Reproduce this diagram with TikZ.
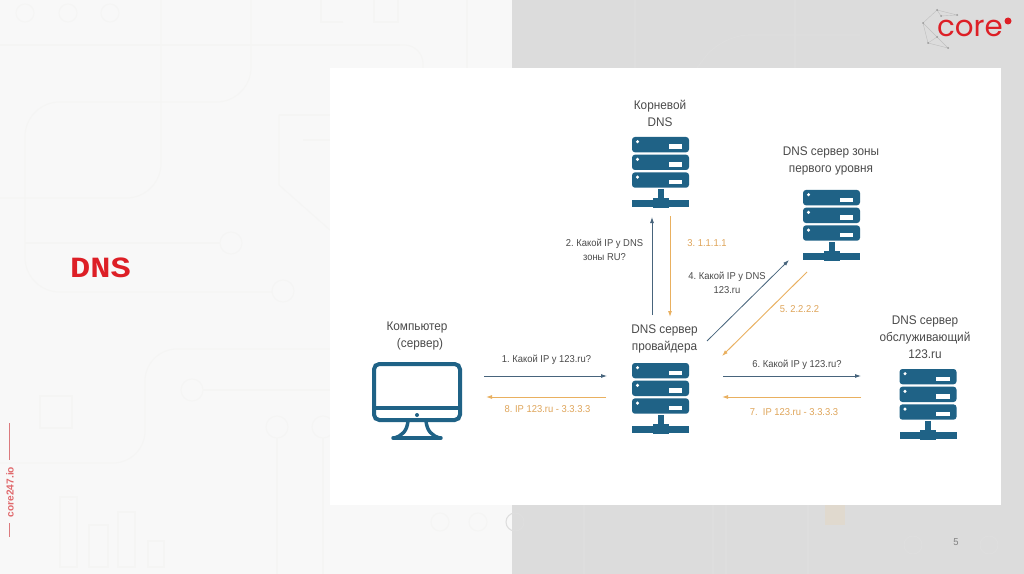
\documentclass[tikz,border=0pt]{standalone}
\usepackage{fontspec}
\setmainfont{Liberation Sans}[FakeStretch=0.94]
\newfontfamily\serifbold{Liberation Mono}[FakeStretch=1.15]
\newfontfamily\logofont{Poppins}
\newfontfamily\sidefont{Liberation Sans}
\usetikzlibrary{arrows.meta}
\definecolor{srv}{HTML}{1F6286}
\definecolor{bluearrow}{HTML}{47647C}
\definecolor{orangearrow}{HTML}{E9B060}
\definecolor{otext}{HTML}{DFA55A}
\definecolor{txt}{HTML}{4A4A4A}
\definecolor{redbrand}{HTML}{DD1F26}
\definecolor{sidered}{HTML}{DB7A7E}
\definecolor{bgl}{HTML}{F8F8F8}
\definecolor{bgr}{HTML}{DCDCDC}
\definecolor{deco}{HTML}{F5F5F4}
\definecolor{decor}{HTML}{DEDEDE}
\definecolor{decosq}{HTML}{E0D9CE}
\tikzset{
 x=0.75pt,y=-0.75pt,
 lbl/.style={font=\fontsize{9.4pt}{12.75pt}\selectfont,text=txt,align=center,inner sep=0pt},
 small/.style={font=\fontsize{7.5pt}{10.5pt}\selectfont,text=txt,align=center,inner sep=0pt},
 smallo/.style={small,text=otext},
 barrow/.style={draw=bluearrow,line width=0.6pt,-{Latex[length=4.5pt,width=3pt]}},
 oarrow/.style={draw=orangearrow,line width=0.7pt,-{Latex[length=4.5pt,width=3pt]}},
 decoline/.style={draw=deco,line width=0.8pt},
 decoliner/.style={draw=decor,line width=0.8pt},
 server/.pic={
  \foreach \yy in {0,17.7,35.4}{
   \fill[srv,rounded corners=2.2pt] (-28.5,\yy) rectangle (28.5,\yy+15.3);
   \fill[white] (-23,\yy+4.7) circle (1.7);
   \fill[white] (8,\yy+7.5) rectangle (21.5,\yy+12);
  }
  \fill[srv] (-3,52) rectangle (3,64);
  \fill[srv] (-28.5,63) rectangle (28.5,70);
  \fill[srv] (-8,60.5) rectangle (8,71);
 }
}
\begin{document}
\frenchspacing
\begin{tikzpicture}
\useasboundingbox (0,0) rectangle (1024,574);
% background
\fill[bgl] (0,0) rectangle (512,574);
\fill[bgr] (512,0) rectangle (1024,574);
% faint decoration, left half
\foreach \cx in {25,68,110}{\draw[decoline] (\cx,13) circle (9);}
\draw[decoline] (0,45) -- (400,45);
\draw[decoline,rounded corners=26pt] (161,0) -- (161,198) -- (0,198);
\draw[decoline,rounded corners=26pt] (251,0) -- (251,102) -- (25,102) -- (25,292) -- (272,292);
\draw[decoline] (25,243) -- (220,243);
\draw[decoline] (231,243) circle (11);
\draw[decoline] (283,291) circle (11);
\draw[decoline] (279,115) -- (330,115);
\draw[decoline] (279,115) -- (279,185) -- (330,230);
\draw[decoline] (303,140) -- (330,140);
\draw[decoline] (343,22) -- (321,22) -- (321,0);
\draw[decoline] (374,0) -- (374,22) -- (398,22) -- (398,0);
\draw[decoline] (467,0) -- (467,68);
\draw[decoline,rounded corners=14pt] (400,45) -- (423,45) -- (423,68);
\draw[decoline] (40,396) rectangle (72,428);
\draw[decoline] (60,497) rectangle (77,567);
\draw[decoline] (89,525) rectangle (108,567);
\draw[decoline] (118,512) rectangle (135,567);
\draw[decoline] (148,541) rectangle (164,567);
\draw[decoline,rounded corners=24pt] (330,349) -- (145,349) -- (145,463) -- (0,463);
\draw[decoline] (192,390) circle (11);
\draw[decoline] (203,390) -- (330,390);
\draw[decoline] (277,427) circle (11);
\draw[decoline] (323,427) circle (11);
\draw[decoline] (277,438) -- (277,574);
\draw[decoline] (323,438) -- (323,574);
\foreach \cx in {440,478}{\draw[decoline] (\cx,522) circle (9);}
% faint decoration, right half
\draw[decoliner] (515,522) circle (9);
\draw[decoliner] (913,545) circle (9);
\draw[decoliner] (989,545) circle (9);
\foreach \vx in {584,713,726,808}{\draw[decoliner] (\vx,505) -- (\vx,574);}
\foreach \vx in {635,795}{\draw[decoliner] (\vx,0) -- (\vx,68);}
\draw[decoliner,rounded corners=20pt] (697,68) -- (722,35) -- (860,35);
\fill[decosq] (825,505) rectangle (845,525);
% white panel
\fill[white] (330,68) rectangle (1001,505);
% title
\node[font=\fontsize{22pt}{24pt}\bfseries\selectfont\serifbold,text=redbrand,inner sep=0pt] (title) at (100.5,268) {DNS};
% logo
\node[font=\fontsize{22pt}{24pt}\selectfont\logofont,text=redbrand,inner sep=0pt,anchor=base] (logo) at (970,37) {core};
\fill[redbrand] (1008,21) circle (3.5);
\coordinate (n1) at (937,10); \coordinate (n2) at (941,16); \coordinate (n3) at (957,15);
\coordinate (n4) at (923,23); \coordinate (n5) at (937,37); \coordinate (n6) at (928,43);
\coordinate (n7) at (948,48);
\draw[black!25,line width=0.3pt] (n1) -- (n2) -- (n3) -- (n1) -- (n4) -- (n6) -- (n7) -- (n5) -- (n4) (n6) -- (n5);
\foreach \n in {n1,n2,n3,n4,n5,n6,n7}{\fill[black!40] (\n) circle (1);}
% side
\node[rotate=90,font=\fontsize{7.6pt}{8pt}\bfseries\selectfont\sidefont,text=sidered!85!red,inner sep=0pt] (side) at (10,492) {core247.io};
\draw[sidered,line width=0.8pt] (9.5,423) -- (9.5,460);
\draw[sidered,line width=0.8pt] (9.5,523) -- (9.5,537);
\node[font=\fontsize{7.5pt}{9pt}\selectfont,text=black!50,inner sep=0pt] (page) at (956,542) {5};
% servers
\pic at (660.5,137) {server};
\pic at (831.5,190) {server};
\pic at (660.5,363) {server};
\pic at (928,369) {server};
% monitor
\draw[srv,line width=3pt,rounded corners=4pt] (374,364) rectangle (460,420);
\draw[srv,line width=3pt] (374,408) -- (460,408);
\fill[srv] (417,415) circle (2);
\draw[srv,line width=2.6pt] (408,421) .. controls (407,431) and (402,436) .. (394,438);
\draw[srv,line width=2.6pt] (426,421) .. controls (427,431) and (432,436) .. (440,438);
\draw[srv,line width=2.6pt,line cap=round] (393,438) -- (441,438);
% labels
\node[lbl] (root) at (660,113.5) {Корневой\\DNS};
\node[lbl] (tld) at (831,160.5) {DNS сервер зоны\\первого уровня};
\node[lbl] (comp) at (417,336) {Компьютер\\\hspace{4.5pt}(сервер)};
\node[lbl] (prov) at (664.5,338.5) {DNS сервер\\провайдера};
\node[lbl] (serv) at (925,337) {DNS сервер\\обслуживающий\\123.ru};
% connector ends
\coordinate (a1s) at (484,376); \coordinate (a1e) at (607,376);
\coordinate (a8s) at (606,397); \coordinate (a8e) at (486,397);
\coordinate (a2s) at (652,315); \coordinate (a2e) at (652,217);
\coordinate (a3s) at (670,216); \coordinate (a3e) at (670,317);
\coordinate (a4s) at (707,341); \coordinate (a4e) at (789,260);
\coordinate (a5s) at (807,272); \coordinate (a5e) at (722,356);
\coordinate (a6s) at (723,376); \coordinate (a6e) at (861,376);
\coordinate (a7s) at (861,397); \coordinate (a7e) at (722,397);
\draw[barrow] (a1s) -- (a1e);
\draw[oarrow] (a8s) -- (a8e);
\draw[barrow] (a2s) -- (a2e);
\draw[oarrow] (a3s) -- (a3e);
\draw[barrow] (a4s) -- (a4e);
\draw[oarrow] (a5s) -- (a5e);
\draw[barrow] (a6s) -- (a6e);
\draw[oarrow] (a7s) -- (a7e);
\node[small] (t1) at (546.5,360) {1. Какой IP у 123.ru?};
\node[smallo] (t8) at (547.5,409) {8. IP 123.ru - 3.3.3.3};
\node[small] (t2) at (604.5,250) {2. Какой IP у DNS\\зоны RU?};
\node[smallo] (t3) at (707,243) {3. 1.1.1.1};
\node[small] (t4) at (727,283) {4. Какой IP у DNS\\123.ru};
\node[smallo] (t5) at (799.5,309) {5. 2.2.2.2};
\node[small] (t6) at (797,365) {6. Какой IP у 123.ru?};
\node[smallo] (t7) at (794,412) {7.~ IP 123.ru - 3.3.3.3};
\end{tikzpicture}
\end{document}
